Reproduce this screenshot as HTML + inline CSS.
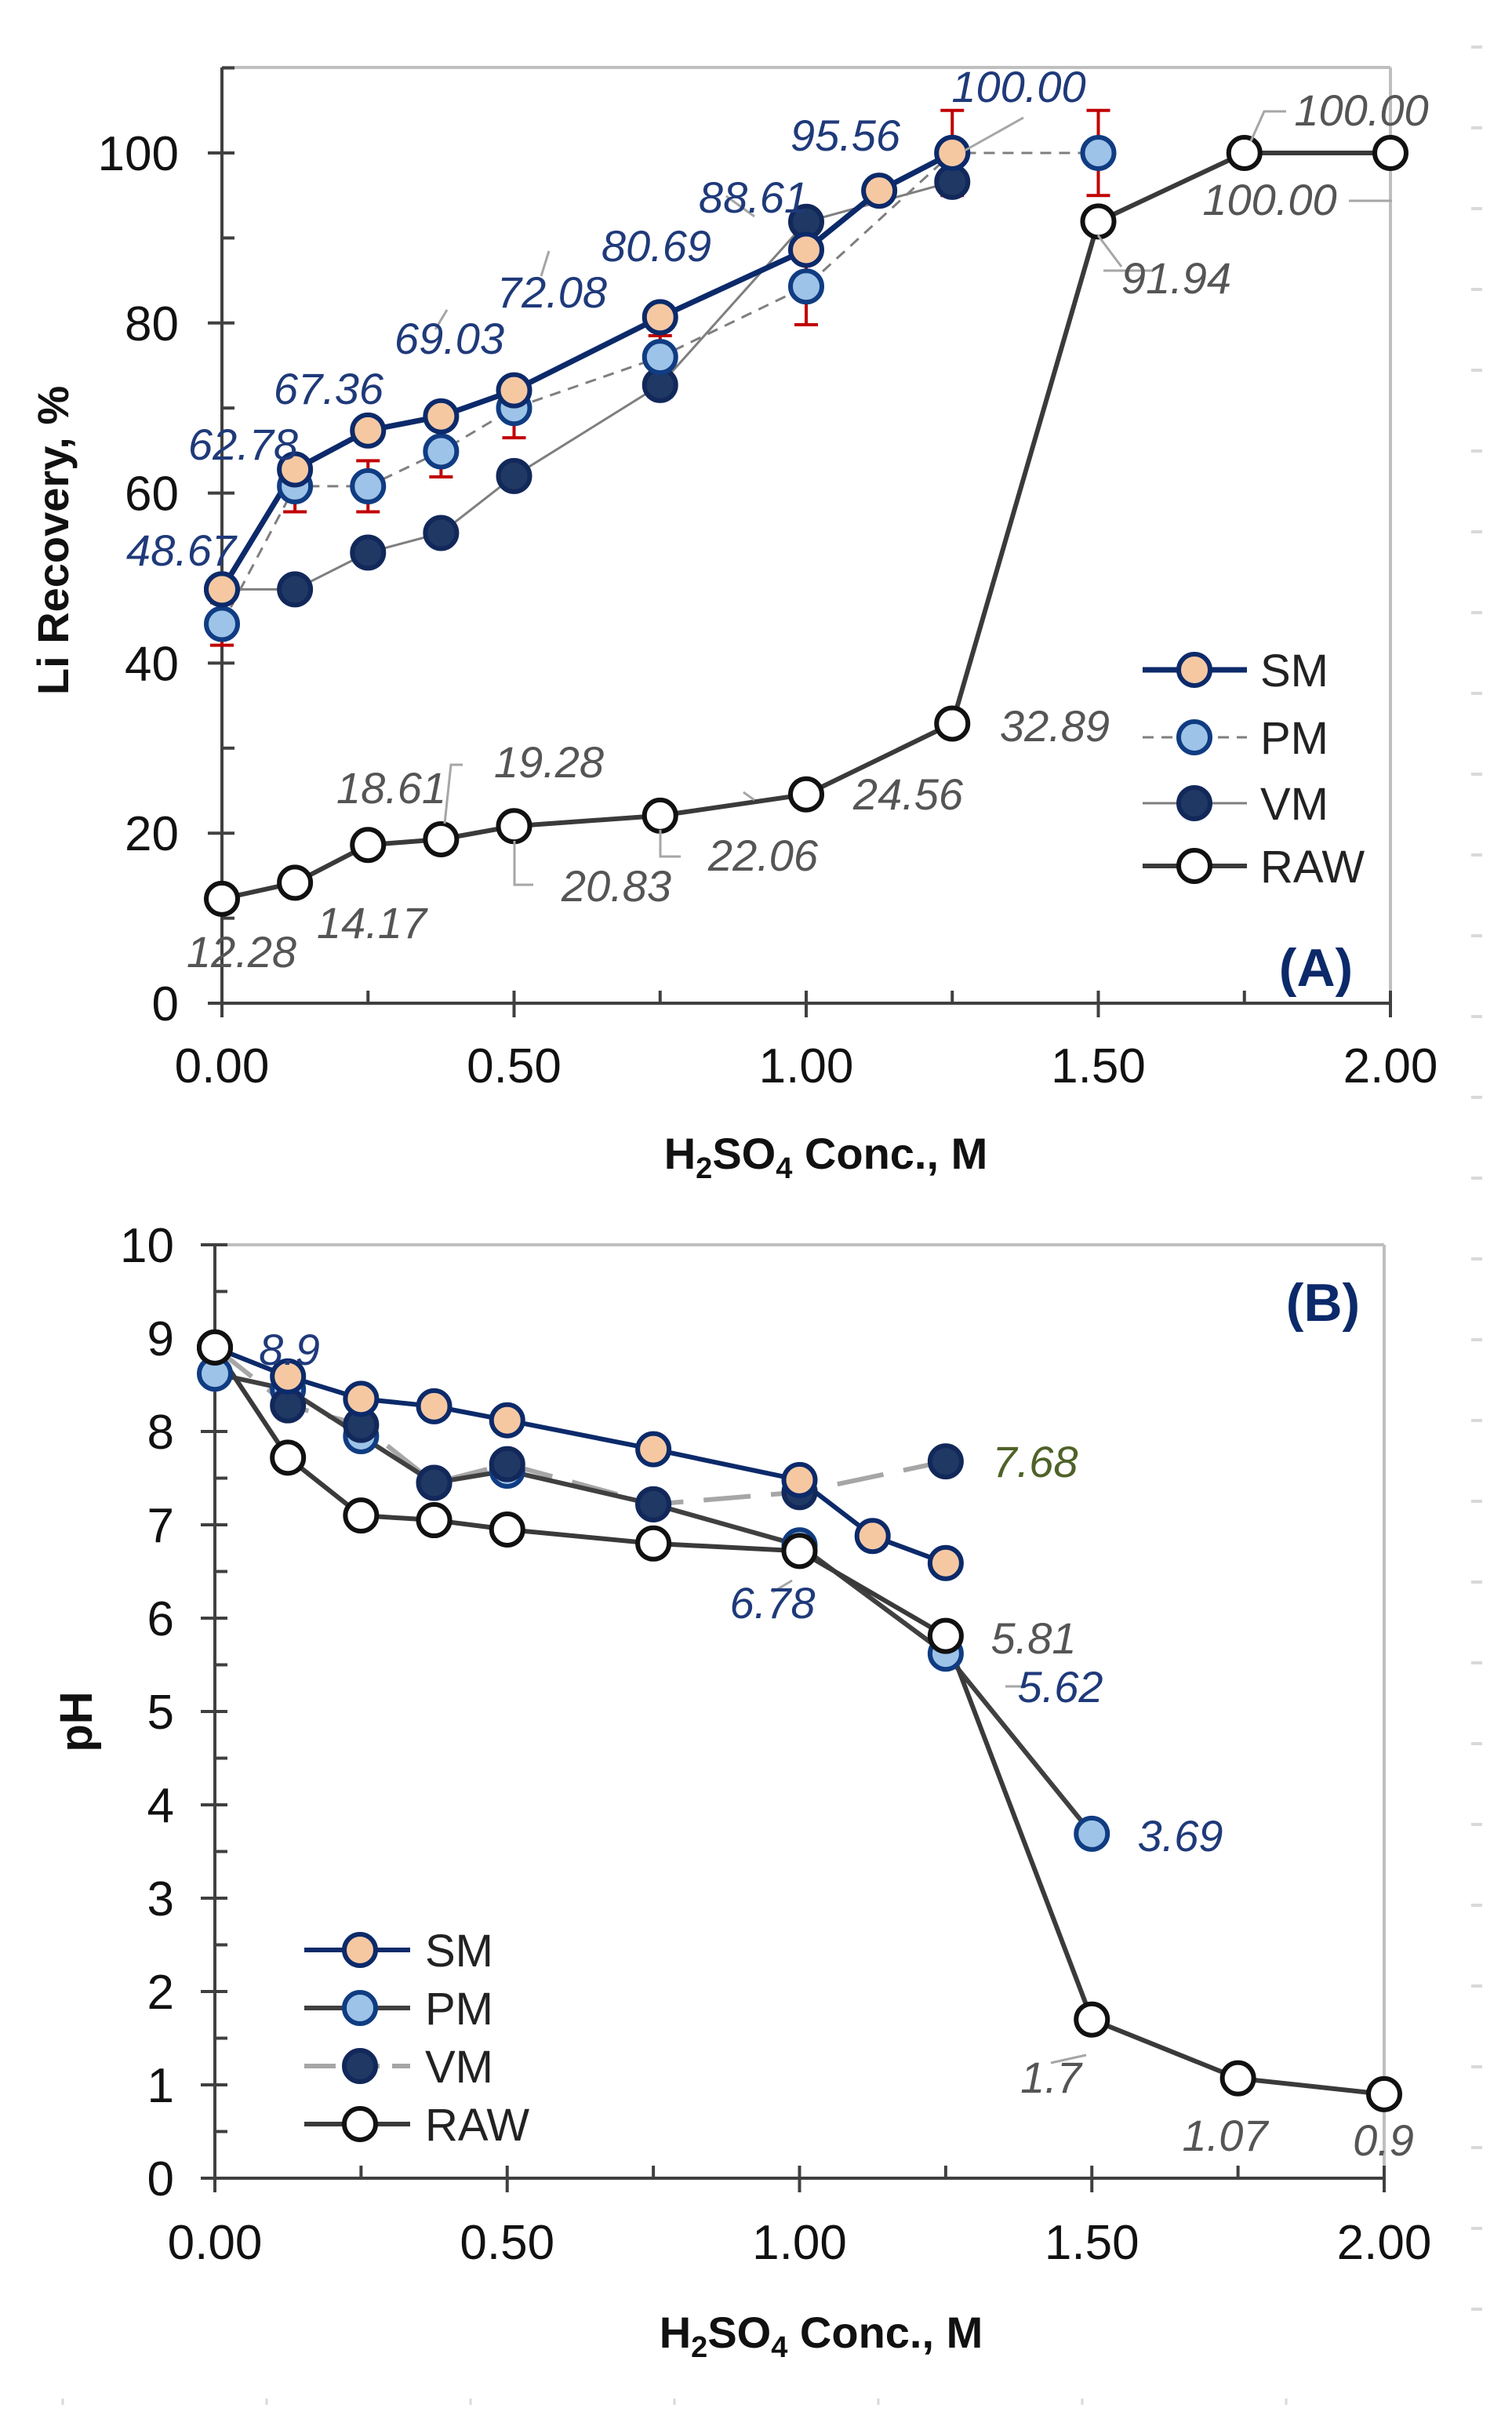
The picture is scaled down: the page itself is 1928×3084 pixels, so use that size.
<!DOCTYPE html>
<html><head><meta charset="utf-8"><style>
html,body{margin:0;padding:0;background:#fff;}
svg{display:block;}
text{font-family:"Liberation Sans",Arial,sans-serif;}
</style></head><body>
<svg id="fig" width="1928" height="3084" viewBox="0 0 1928 3084" xmlns="http://www.w3.org/2000/svg"></svg>
<script>
// ---------- Chart A data ----------
const xA_SM=[0,0.125,0.25,0.375,0.5,0.75,1.0,1.125,1.25];
const yA_SM=[48.67,62.78,67.36,69.03,72.08,80.69,88.61,95.56,100];
const xA_PM=[0,0.125,0.25,0.375,0.5,0.75,1.0,1.25,1.5];
const yA_PM=[44.6,60.8,60.8,64.9,70.0,76.0,84.3,100,100];
const eA_PM=[2.5,3,3,3,3.5,2.5,4.5,5,5];
const xA_VM=[0,0.125,0.25,0.375,0.5,0.75,1.0,1.25];
const yA_VM=[48.67,48.67,53.0,55.3,62.0,72.7,91.9,96.6];
const xA_RAW=[0,0.125,0.25,0.375,0.5,0.75,1.0,1.25,1.5,1.75,2.0];
const yA_RAW=[12.28,14.17,18.61,19.28,20.83,22.06,24.56,32.89,91.94,100,100];
const xTicksA=["0.00","0.50","1.00","1.50","2.00"];
const yTicksA=["0","20","40","60","80","100"];
// ---------- Chart B data ----------
const xB_SM=[0,0.125,0.25,0.375,0.5,0.75,1.0,1.125,1.25];
const yB_SM=[8.9,8.59,8.35,8.27,8.12,7.81,7.48,6.88,6.59];
const xB_PM=[0,0.125,0.25,0.375,0.5,0.75,1.0,1.25,1.5];
const yB_PM=[8.62,8.45,7.95,7.45,7.58,7.22,6.78,5.62,3.69];
const xB_VM=[0,0.125,0.25,0.375,0.5,0.75,1.0,1.25];
const yB_VM=[8.9,8.28,8.07,7.45,7.65,7.22,7.35,7.68];
const xB_RAW=[0,0.125,0.25,0.375,0.5,0.75,1.0,1.25,1.5,1.75,2.0];
const yB_RAW=[8.9,7.72,7.1,7.05,6.95,6.8,6.72,5.81,1.7,1.07,0.9];
const xTicksB=["0.00","0.50","1.00","1.50","2.00"];
const yTicksB=["0","1","2","3","4","5","6","7","8","9","10"];

const NS="http://www.w3.org/2000/svg";
const svg=document.getElementById('fig');
function mk(tag,attrs,parent,txt){const e=document.createElementNS(NS,tag);for(const k in attrs)e.setAttribute(k,attrs[k]);if(txt!==undefined)e.textContent=txt;(parent||svg).appendChild(e);return e;}

const A={l:283,r:1773,t:86,b:1279,y100:195};
const sxA=v=>A.l+(A.r-A.l)*v/2;
const syA=v=>A.b-(A.b-A.y100)*v/100;
const B={l:274,r:1765,t:1587,b:2777};
const sxB=v=>B.l+(B.r-B.l)*v/2;
const syB=v=>B.b-(B.b-B.t)*v/10;

const C={sm:{fill:"#f6c8a2",stroke:"#0c2a6a"},pm:{fill:"#9dc3e8",stroke:"#103c82"},vm:{fill:"#1f3864",stroke:"#12285a"},raw:{fill:"#ffffff",stroke:"#111111"}};

function frame(G,sx,sy,name,yMajor,yMinorStep,yMax){
  const g=mk('g',{});
  
  
  mk('line',{x1:G.l,y1:G.t,x2:G.r,y2:G.t,stroke:"#bfbfbf","stroke-width":4},g);
  mk('line',{x1:G.r,y1:G.t,x2:G.r,y2:G.b,stroke:"#bfbfbf","stroke-width":4},g);
  mk('line',{x1:G.l,y1:G.t,x2:G.l,y2:G.b+18,stroke:"#404040","stroke-width":4},g);
  mk('line',{x1:G.l-18,y1:G.b,x2:G.r,y2:G.b,stroke:"#404040","stroke-width":4},g);
  for(let v=0;v<=2.0001;v+=0.25){const x=sx(v);mk('line',{x1:x,y1:G.b-16,x2:x,y2:G.b+(Math.abs(v%0.5)<1e-6?18:0),stroke:"#404040","stroke-width":4},g);}
  for(let v=0;v<=yMax+1e-6;v+=yMinorStep){const y=sy(v);const major=Math.abs((v/yMajor)-Math.round(v/yMajor))<1e-6;mk('line',{x1:G.l-(major?18:0),y1:y,x2:G.l+16,y2:y,stroke:"#404040","stroke-width":4},g);}
}
function line(xs,ys,sx,sy,stroke,w,dash,name){
  const p=mk('polyline',{points:xs.map((x,i)=>sx(x)+","+sy(ys[i])).join(" "),fill:"none",stroke:stroke,"stroke-width":w,"stroke-dasharray":dash||"none","stroke-linejoin":"round"});
  
  
}
function markers(xs,ys,sx,sy,c,name){
  xs.forEach((x,i)=>{const m=mk('circle',{cx:sx(x),cy:sy(ys[i]),r:20,fill:c.fill,stroke:c.stroke,"stroke-width":6});
  
  });
}
function label(x,y,t,color,name,size){
  const e=mk('text',{x:x,y:y,"font-size":size||56,"font-style":"italic",fill:color,"text-anchor":"middle"},svg,t);
  
  
}
function leader(pts){mk('polyline',{points:pts,fill:"none",stroke:"#a6a6a6","stroke-width":3});}

// ---------- Chart A ----------
frame(A,sxA,syA,'chart-a',20,10,110);
xTicksA.forEach((t,i)=>{const e=mk('text',{x:sxA(i*0.5),y:1380,"font-size":62,"text-anchor":"middle",fill:"#111"},svg,t);});
yTicksA.forEach((t,i)=>{const e=mk('text',{x:228,y:syA(i*20)+22,"font-size":62,"text-anchor":"end",fill:"#111"},svg,t);});
let ta=mk('text',{x:68,y:689,"font-size":56,"font-weight":"bold","text-anchor":"middle",transform:"rotate(-90 68 689)",dy:19,fill:"#111"},svg,"Li Recovery, %");

let xa=mk('text',{x:1053,y:1490,"font-size":56,"font-weight":"bold","text-anchor":"middle",fill:"#111"},svg);

xa.innerHTML='H<tspan font-size="38" dy="12">2</tspan><tspan dy="-12">SO</tspan><tspan font-size="38" dy="12">4</tspan><tspan dy="-12"> Conc., M</tspan>';

line(xA_VM,yA_VM,sxA,syA,"#7f7f7f",3,null,'vm-line-a');
line(xA_PM,yA_PM,sxA,syA,"#7f7f7f",3,"14 10",'pm-line-a');
line(xA_RAW,yA_RAW,sxA,syA,"#3a3a3a",6,null,'raw-line-a');
line(xA_SM,yA_SM,sxA,syA,"#0c2a6a",7,null,'sm-line-a');
xA_PM.forEach((x,i)=>{const cx=sxA(x),t=syA(yA_PM[i]+eA_PM[i]),b=syA(yA_PM[i]-eA_PM[i]);
 const g=mk('g',{stroke:"#c00000","stroke-width":4});
 
 mk('line',{x1:cx,y1:t,x2:cx,y2:b},g);mk('line',{x1:cx-15,y1:t,x2:cx+15,y2:t},g);mk('line',{x1:cx-15,y1:b,x2:cx+15,y2:b},g);});
markers(xA_VM,yA_VM,sxA,syA,C.vm,'vm-a');
markers(xA_PM,yA_PM,sxA,syA,C.pm,'pm-a');
markers(xA_SM,yA_SM,sxA,syA,C.sm,'sm-a');
markers(xA_RAW,yA_RAW,sxA,syA,C.raw,'raw-a');
const bl="#1f3a7a",gr="#555";
leader("1305,150 1230,192");leader("926,250 962,276");leader("700,320 690,352");leader("570,395 555,420");
leader("948,1010 962,1020");leader("590,975 575,975 567,1050");leader("656,1072 656,1128 680,1128");
leader("842,1058 842,1092 868,1092");leader("1407,345 1470,345");leader("1775,256 1720,256");
leader("1640,142 1612,142 1595,180");leader("1400,300 1430,340");
[["48.67",231,721],["62.78",310,586],["67.36",419,515],["69.03",573,451],["72.08",704,392],["80.69",837,333],["88.61",961,271],["95.56",1078,192],["100.00",1299,130]].forEach(a=>label(a[1],a[2],a[0],bl,'sm-value-label'));
[["12.28",308,1233],["14.17",474,1196],["18.61",499,1024],["19.28",700,991],["20.83",786,1149],["22.06",973,1110],["24.56",1158,1032],["32.89",1345,945],["91.94",1500,374],["100.00",1736,160],["100.00",1619,274]].forEach(a=>label(a[1],a[2],a[0],gr,'raw-value-label'));
[["SM",C.sm,"#0c2a6a",7,null,854],["PM",C.pm,"#7f7f7f",3,"14 10",940],["VM",C.vm,"#7f7f7f",3,null,1024],["RAW",C.raw,"#3a3a3a",6,null,1104]].forEach(L=>{
 const g=mk('g',{});
 mk('line',{x1:1457,y1:L[5],x2:1590,y2:L[5],stroke:L[2],"stroke-width":L[3],"stroke-dasharray":L[4]||"none"},g);
 mk('circle',{cx:1523,cy:L[5],r:20,fill:L[1].fill,stroke:L[1].stroke,"stroke-width":6},g);
 mk('text',{x:1607,y:L[5]+21,"font-size":58,fill:"#222"},g,L[0]);});
let la=mk('text',{x:1678,y:1257,"font-size":68,"font-weight":"bold","text-anchor":"middle",fill:"#0c2a6a"},svg,"(A)");


// ---------- Chart B ----------
frame(B,sxB,syB,'chart-b',1,0.5,10);
xTicksB.forEach((t,i)=>{const e=mk('text',{x:sxB(i*0.5),y:2880,"font-size":62,"text-anchor":"middle",fill:"#111"},svg,t);});
yTicksB.forEach((t,i)=>{const e=mk('text',{x:222,y:syB(i)+22,"font-size":62,"text-anchor":"end",fill:"#111"},svg,t);});
let tb=mk('text',{x:98,y:2195,"font-size":58,"font-weight":"bold","text-anchor":"middle",transform:"rotate(-90 98 2195)",dy:19,fill:"#111"},svg,"pH");

let xb=mk('text',{x:1047,y:2993,"font-size":56,"font-weight":"bold","text-anchor":"middle",fill:"#111"},svg);

xb.innerHTML='H<tspan font-size="38" dy="12">2</tspan><tspan dy="-12">SO</tspan><tspan font-size="38" dy="12">4</tspan><tspan dy="-12"> Conc., M</tspan>';

line(xB_VM,yB_VM,sxB,syB,"#a6a6a6",6,"60 26",'vm-line-b');
line(xB_PM,yB_PM,sxB,syB,"#404040",6,null,'pm-line-b');
line(xB_RAW,yB_RAW,sxB,syB,"#3a3a3a",6,null,'raw-line-b');
line(xB_SM,yB_SM,sxB,syB,"#0c2a6a",6,null,'sm-line-b');
markers(xB_PM,yB_PM,sxB,syB,C.pm,'pm-b');
markers(xB_VM,yB_VM,sxB,syB,C.vm,'vm-b');
markers(xB_SM,yB_SM,sxB,syB,C.sm,'sm-b');
markers(xB_RAW,yB_RAW,sxB,syB,C.raw,'raw-b');
leader("985,2030 1010,2015");leader("1282,2150 1305,2150");leader("1340,2630 1385,2620");
label(369,1740,"8.9",bl,'value-label');
label(1320,1883,"7.68","#4f6228",'value-label');
label(985,2063,"6.78",bl,'value-label');
label(1318,2108,"5.81",gr,'value-label');
label(1352,2170,"5.62",bl,'value-label');
label(1505,2360,"3.69",bl,'value-label');
label(1340,2668,"1.7",gr,'value-label');
label(1562,2742,"1.07",gr,'value-label');
label(1764,2748,"0.9",gr,'value-label');
[["SM",C.sm,"#0c2a6a",6,null,2486],["PM",C.pm,"#404040",6,null,2560],["VM",C.vm,"#a6a6a6",6,"40 16",2634],["RAW",C.raw,"#3a3a3a",6,null,2708]].forEach(L=>{
 const g=mk('g',{});
 mk('line',{x1:388,y1:L[5],x2:523,y2:L[5],stroke:L[2],"stroke-width":L[3],"stroke-dasharray":L[4]||"none"},g);
 mk('circle',{cx:459,cy:L[5],r:20,fill:L[1].fill,stroke:L[1].stroke,"stroke-width":6},g);
 mk('text',{x:542,y:L[5]+21,"font-size":58,fill:"#222"},g,L[0]);});
let lb=mk('text',{x:1687,y:1684,"font-size":68,"font-weight":"bold","text-anchor":"middle",fill:"#0c2a6a"},svg,"(B)");


for(let y=60;y<3000;y+=103){mk('line',{x1:1876,y1:y,x2:1890,y2:y,stroke:"#d9d9d9","stroke-width":4});}
for(let x=80;x<1900;x+=260){mk('line',{x1:x,y1:3058,x2:x,y2:3066,stroke:"#d9d9d9","stroke-width":3});}
</script>
</body></html>
